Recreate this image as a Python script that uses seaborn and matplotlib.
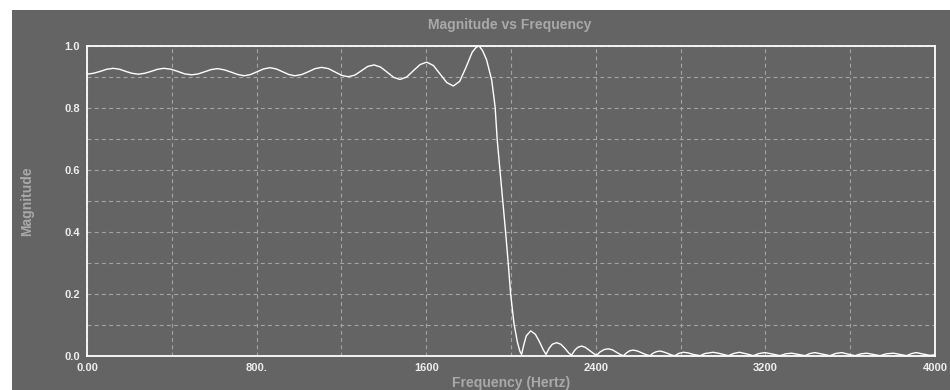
import matplotlib
matplotlib.use("Agg")
import matplotlib.pyplot as plt
import matplotlib.patches as mpatches
import seaborn as sns
import pandas as pd

# ---- data ----
freq_hz = [
    0, 30, 62, 93, 124, 154, 183, 212, 242, 272, 302, 333, 363, 396, 428, 461,
    494, 525, 555, 586, 616, 648, 679, 711, 742, 772, 802, 833, 863, 893, 922,
    952, 981, 1013, 1044, 1076, 1107, 1139, 1170, 1202, 1233, 1263, 1294, 1324,
    1354, 1385, 1415, 1446, 1476, 1508, 1539, 1571, 1602, 1634, 1665, 1697,
    1728, 1758, 1787, 1817, 1836, 1850, 1866, 1885, 1909, 1925, 1935, 1948, 1961,
    1975, 1987, 1998, 2014, 2030, 2042, 2050, 2060, 2072, 2093, 2115, 2135,
    2152, 2165, 2180, 2195, 2215, 2235, 2255, 2272, 2286, 2300, 2315, 2333,
    2350, 2370, 2390, 2404, 2420, 2440, 2459, 2478, 2498, 2515, 2530, 2545,
    2560, 2577, 2597, 2617, 2638, 2656, 2670, 2686, 2703, 2720, 2740, 2758,
    2774, 2790, 2813, 2835, 2860, 2892, 2915, 2954, 2985, 3025, 3050, 3077,
    3110, 3143, 3170, 3198, 3235, 3269, 3295, 3324, 3355, 3387, 3410, 3434,
    3470, 3505, 3530, 3560, 3590, 3623, 3650, 3678, 3710, 3741, 3770, 3804,
    3835, 3866, 3890, 3913, 3945, 3976, 4000,
]
magnitude = [
    0.909, 0.912, 0.918, 0.925, 0.928, 0.925, 0.918, 0.912, 0.909, 0.912,
    0.918, 0.925, 0.928, 0.925, 0.918, 0.910, 0.907, 0.910, 0.917, 0.924,
    0.927, 0.923, 0.916, 0.908, 0.904, 0.908, 0.917, 0.926, 0.930, 0.926,
    0.917, 0.908, 0.904, 0.908, 0.917, 0.927, 0.931, 0.927, 0.916, 0.905,
    0.901, 0.906, 0.920, 0.934, 0.939, 0.932, 0.916, 0.899, 0.892, 0.900,
    0.920, 0.940, 0.948, 0.937, 0.910, 0.882, 0.871, 0.886, 0.930, 0.980,
    0.996, 1.000, 0.985, 0.955, 0.890, 0.804, 0.697, 0.600, 0.503, 0.396, 0.299,
    0.202, 0.105, 0.045, 0.015, 0.005, 0.035, 0.065, 0.081, 0.070, 0.045,
    0.020, 0.005, 0.025, 0.038, 0.043, 0.038, 0.024, 0.010, 0.003, 0.018,
    0.028, 0.032, 0.028, 0.018, 0.008, 0.002, 0.013, 0.021, 0.023, 0.020,
    0.012, 0.005, 0.001, 0.010, 0.017, 0.019, 0.016, 0.010, 0.004, 0.001,
    0.009, 0.014, 0.016, 0.013, 0.008, 0.003, 0.001, 0.008, 0.012, 0.010,
    0.005, 0.001, 0.008, 0.012, 0.008, 0.001, 0.008, 0.012, 0.007, 0.001,
    0.008, 0.011, 0.006, 0.001, 0.007, 0.009, 0.005, 0.001, 0.008, 0.011,
    0.006, 0.001, 0.008, 0.011, 0.006, 0.001, 0.007, 0.009, 0.005, 0.001,
    0.007, 0.009, 0.005, 0.001, 0.008, 0.011, 0.006, 0.002, 0.004,
]
x_ticks = [0, 400, 800, 1200, 1600, 2000, 2400, 2800, 3200, 3600, 4000]
x_tick_labels = ["0.00", "", "800.", "", "1600", "", "2400", "", "3200", "", "4000"]
y_ticks = [0.0, 0.1, 0.2, 0.3, 0.4, 0.5, 0.6, 0.7, 0.8, 0.9, 1.0]
y_tick_labels = ["0.0", "", "0.2", "", "0.4", "", "0.6", "", "0.8", "", "1.0"]

df = pd.DataFrame({"Frequency": freq_hz, "Magnitude": magnitude})

sns.set_style("dark")
plt.rcParams["font.family"] = ["Liberation Sans", "DejaVu Sans"]

PANEL = "#646464"
GRID = "#a4a4a4"
LABEL = "#a9a9a9"

fig = plt.figure(figsize=(9.5, 3.9), dpi=100, facecolor="white")
fig.patches.append(mpatches.Rectangle((12 / 950, 0), 1 - 12 / 950, 380 / 390,
                                      transform=fig.transFigure,
                                      facecolor=PANEL, edgecolor="none", zorder=-10))

ax = fig.add_axes([87 / 950, 34 / 390, 848 / 950, 310 / 390])
ax.set_zorder(5)
ax.set_facecolor(PANEL)

sns.lineplot(data=df, x="Frequency", y="Magnitude", ax=ax, color="white",
             linewidth=1.0, estimator=None, sort=False)

ax.set_xlim(0, 4000)
ax.set_ylim(0, 1.0)
ax.set_xticks(x_ticks)
ax.set_xticklabels(x_tick_labels)
ax.set_yticks(y_ticks)
ax.set_yticklabels(y_tick_labels)
ax.tick_params(axis="both", length=0, colors="#eeeeee", labelsize=8, pad=5)
for lab in ax.get_xticklabels() + ax.get_yticklabels():
    lab.set_fontweight("bold")

ax.grid(True, color=GRID, linestyle=(0, (3.5, 3)), linewidth=0.8)
ax.set_axisbelow(True)
for sp in ax.spines.values():
    sp.set_visible(True)
    sp.set_color("white")
    sp.set_linewidth(1.3)

ax.set_xlabel("Frequency (Hertz)", color=LABEL, fontsize=10, fontweight="bold", labelpad=2)
ax.set_ylabel("Magnitude", color=LABEL, fontsize=10, fontweight="bold", labelpad=22)
fig.text(510 / 950, 1 - 25 / 390, "Magnitude vs Frequency", color=LABEL,
         fontsize=10, fontweight="bold", ha="center", va="center")

fig.savefig("out.png", dpi=100, facecolor="white")
